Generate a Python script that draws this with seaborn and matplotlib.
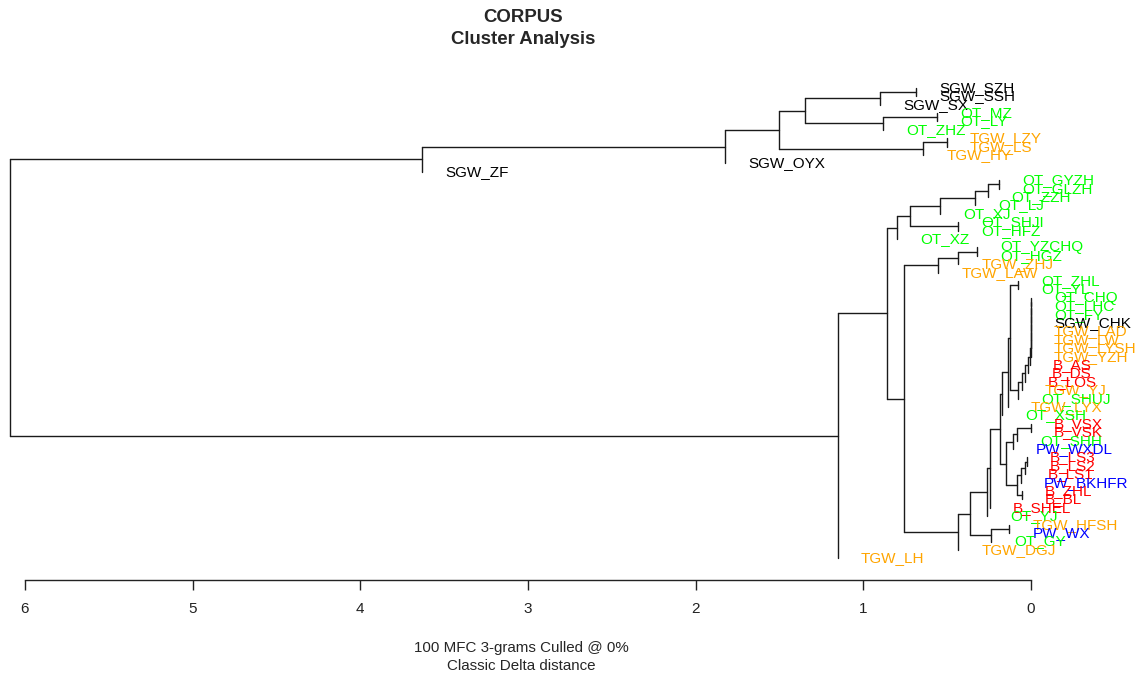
import matplotlib
matplotlib.use("Agg")
import matplotlib.pyplot as plt
import pandas as pd
import seaborn as sns

# leaves in the order they are drawn, top to bottom
labels = [
    "SGW_SZH", "SGW_SSH", "SGW_SX", "OT_MZ", "OT_LY", "OT_ZHZ", "TGW_LZY", "TGW_LS",
    "TGW_HY", "SGW_OYX", "SGW_ZF", "OT_GYZH", "OT_GLZH", "OT_ZZH", "OT_LJ", "OT_XJ",
    "OT_SHJI", "OT_HFZ", "OT_XZ", "OT_YZCHQ", "OT_HGZ", "TGW_ZHJ", "TGW_LAW", "OT_ZHL",
    "OT_YL", "OT_CHQ", "OT_LHC", "OT_FY", "SGW_CHK", "TGW_LAD", "TGW_LW", "TGW_LYSH",
    "TGW_YZH", "B_AS", "B_DS", "B_LOS", "TGW_YJ", "OT_SHUJ", "TGW_LYX", "OT_XSH",
    "B_VSX", "B_VSK", "OT_SHH", "PW_WXDL", "B_LS3", "B_LS2", "B_LS1", "PW_BKHFR",
    "B_ZHL", "B_BL", "B_SHEL", "OT_YJ", "TGW_HFSH", "PW_WX", "OT_GY", "TGW_DGJ", "TGW_LH",
]

# hclust style merge table: negative = leaf number (1-based), positive = earlier merge row
merge_left = [
    -1, 1, -4, 3, 2, -7, 6, 5, 8, 9,
    -12, 11, 12, 13, -17, 14, 16, -20, 18, 19,
    -24, -26, 22, 23, 24, 25, 26, 27, 28, 29,
    30, 31, 32, 21, 34, 35, -41, 37, 38, -45,
    40, 41, -49, 42, 39, 36, 46, 47, -53, 49,
    48, 51, 20, 17, 54, 10,
]
merge_right = [
    -2, -3, -5, -6, 4, -8, -9, 7, -10, -11,
    -13, -14, -15, -16, -18, 15, -19, -21, -22, -23,
    -25, -27, -28, -29, -30, -31, -32, -33, -34, -35,
    -36, -37, -38, 33, -39, -40, -42, -43, -44, -46,
    -47, -48, -50, 43, 44, 45, -51, -52, -54, -55,
    50, -56, 52, 53, -57, 55,
]
merge_height = [
    0.686, 0.899, 0.559, 0.884, 1.348, 0.503, 0.642, 1.501, 1.822, 3.632,
    0.191, 0.258, 0.334, 0.543, 0.434, 0.722, 0.799, 0.324, 0.434, 0.553,
    0.076, 0.000, 0.000, 0.000, 0.000, 0.000, 0.000, 0.002, 0.006, 0.016,
    0.036, 0.055, 0.076, 0.125, 0.140, 0.175, 0.000, 0.085, 0.109, 0.026,
    0.036, 0.060, 0.055, 0.085, 0.151, 0.185, 0.245, 0.264, 0.129, 0.240,
    0.364, 0.434, 0.757, 0.861, 1.153, 6.089,
]

classColours = {"B": "#FF0000", "OT": "#00FF00", "PW": "#0000FF", "SGW": "#000000", "TGW": "#FFA500"}


def buildSegments(left, right, height):
    # tips sit at y = 1..n, a node sits halfway between its two children
    nodeY = {}
    parentHeight = {}
    rows = []

    def yOf(ref):
        return float(-ref) if ref < 0 else nodeY[ref]

    seg = 0
    for k, (a, b, h) in enumerate(zip(left, right, height), start=1):
        ya, yb = yOf(a), yOf(b)
        nodeY[k] = (ya + yb) / 2
        rows += [(seg, h, ya), (seg, h, yb)]
        seg += 1
        for ref in (a, b):
            parentHeight[ref] = h
            if ref > 0:
                rows += [(seg, h, nodeY[ref]), (seg, height[ref - 1], nodeY[ref])]
                seg += 1
    return pd.DataFrame(rows, columns=["seg", "x", "y"]), parentHeight


def main():
    sns.set_theme(style="white")
    plt.rcParams["font.family"] = ["Liberation Sans", "DejaVu Sans"]

    segments, parentHeight = buildSegments(merge_left, merge_right, merge_height)

    fig = plt.figure(figsize=(11.45, 6.75), dpi=100)
    ax = fig.add_axes([0, 1 - 580 / 675, 1, 580 / 675])

    sns.lineplot(data=segments, x="x", y="y", units="seg", estimator=None, sort=False,
                 color="#1a1a1a", linewidth=1.0, ax=ax, legend=False)

    for i, name in enumerate(labels, start=1):
        tipX = parentHeight[-i]
        colour = classColours[name.split("_")[0]]
        ax.text(tipX - 0.138, i, name, color=colour, fontsize=11, ha="left", va="center", clip_on=False)

    ax.set_xlim(6.149, -0.680)
    ax.set_ylim(59.58, -9.44)
    ax.set_xlabel("")
    ax.set_ylabel("")
    ax.set_yticks([])
    ax.set_xticks(range(0, 7))
    ax.set_xticklabels([str(v) for v in range(0, 7)], fontsize=11, color="#222222")
    ax.tick_params(axis="x", direction="out", length=7, width=1.0, pad=9, colors="#222222", bottom=True)
    for side in ["top", "left", "right"]:
        ax.spines[side].set_visible(False)
    ax.spines["bottom"].set_bounds(0, 6)
    ax.spines["bottom"].set_color("#222222")
    ax.spines["bottom"].set_linewidth(1.0)
    ax.patch.set_alpha(0)

    fig.text(523 / 1145, 1 - 17 / 675, "CORPUS", ha="center", va="center", fontsize=13.4, fontweight="bold")
    fig.text(523 / 1145, 1 - 40 / 675, "Cluster Analysis", ha="center", va="center", fontsize=13.4, fontweight="bold")
    fig.text(521 / 1145, 1 - 648 / 675, "100 MFC 3-grams Culled @ 0%", ha="center", va="center", fontsize=10.9)
    fig.text(521 / 1145, 1 - 666 / 675, "Classic Delta distance", ha="center", va="center", fontsize=10.9)

    fig.savefig("out.png", dpi=100)
    plt.close(fig)


if __name__ == "__main__":
    main()
